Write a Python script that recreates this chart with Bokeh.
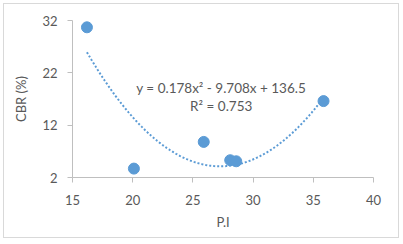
import numpy as np
from bokeh.plotting import figure
from bokeh.models import FixedTicker, Label
from bokeh.embed import file_html
from bokeh.resources import INLINE

# Data
pi_values = [16.2, 20.1, 25.9, 28.1, 28.6, 35.85]
cbr_values = [30.7, 3.7, 8.8, 5.3, 5.1, 16.6]

# Trendline coefficients shown on the chart
coef_a, coef_b, coef_c = 0.178, -9.708, 136.5
equation_text = "y = 0.178x\u00b2 - 9.708x + 136.5"
r2_text = "R\u00b2 = 0.753"

x_ticks = [15, 20, 25, 30, 35, 40]
y_ticks = [2, 12, 22, 32]

FONT = "Lato"
GRAY = "#595959"
BLUE = "#5b9bd5"

W, H = 396, 235
p = figure(width=W, height=H, x_range=(15, 40), y_range=(2, 32),
           output_backend="svg", toolbar_location=None,
           min_border_left=68, min_border_right=27, min_border_top=16,
           min_border_bottom=62)
p.styles = {"margin-left": "3px", "margin-top": "3px",
            "border": "1px solid #d9d9d9"}
p.outline_line_color = None
p.xgrid.visible = False
p.ygrid.visible = False
p.background_fill_color = "white"
p.border_fill_color = "white"

for ax in (p.xaxis[0], p.yaxis[0]):
    ax.axis_line_color = "#bfbfbf"
    ax.major_tick_line_color = "#bfbfbf"
    ax.minor_tick_line_color = None
    ax.major_tick_out = 5
    ax.major_tick_in = 0
    ax.major_label_text_font = FONT
    ax.major_label_text_font_size = "13px"
    ax.major_label_text_color = GRAY
    ax.axis_label_text_font = FONT
    ax.axis_label_text_font_size = "13px"
    ax.axis_label_text_color = GRAY
    ax.axis_label_text_font_style = "normal"

p.xaxis.ticker = FixedTicker(ticks=x_ticks)
p.yaxis.ticker = FixedTicker(ticks=y_ticks)
p.xaxis.axis_label = "P.I"
p.yaxis.axis_label = "CBR (%)"
p.xaxis.major_label_standoff = 12
p.yaxis.major_label_standoff = 10
p.xaxis.axis_label_standoff = 6
p.yaxis.axis_label_standoff = 10

xs = np.linspace(min(pi_values), max(pi_values), 200)
ys = coef_a * xs**2 + coef_b * xs + coef_c
p.line(xs, ys, line_color=BLUE, line_width=2, line_dash="2 2")

p.scatter(pi_values, cbr_values, size=11, fill_color=BLUE, line_color=BLUE)

p.add_layout(Label(x=27.35, y=19.1, text=equation_text, text_font=FONT,
                   text_font_size="13.5px", text_color=GRAY, text_align="center",
                   text_baseline="middle"))
p.add_layout(Label(x=27.35, y=15.65, text=r2_text, text_font=FONT,
                   text_font_size="13.5px", text_color=GRAY, text_align="center",
                   text_baseline="middle"))

open("out.html", "w").write(file_html(p, INLINE))
